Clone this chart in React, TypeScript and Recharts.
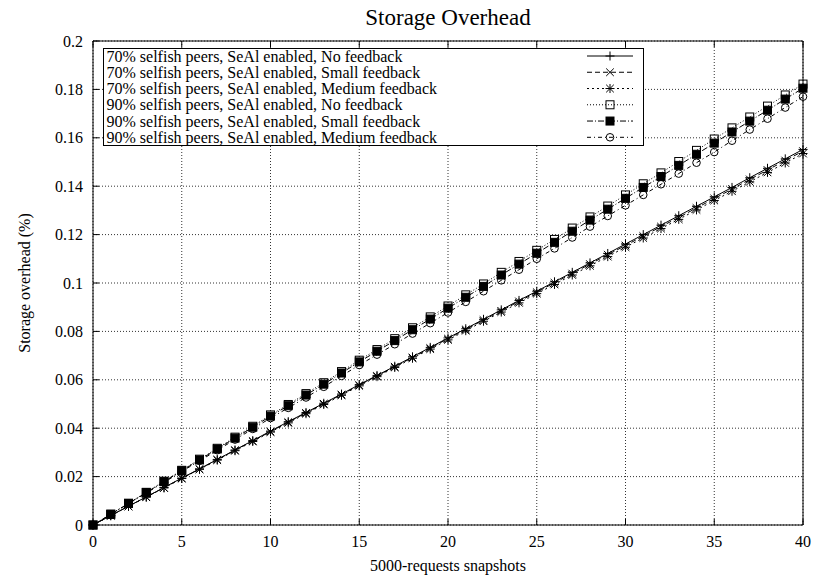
import React from 'react';
import { LineChart, Line, XAxis, YAxis, CartesianGrid, Legend, Label } from 'recharts';

// snapshot index (x axis)
const snapshots = [
  0, 1, 2, 3, 4, 5, 6, 7, 8, 9, 10, 11, 12, 13, 14, 15, 16, 17, 18, 19, 20,
  21, 22, 23, 24, 25, 26, 27, 28, 29, 30, 31, 32, 33, 34, 35, 36, 37, 38, 39, 40,
];

const xTicks = [0, 5, 10, 15, 20, 25, 30, 35, 40];
const yTicks = [0, 0.02, 0.04, 0.06, 0.08, 0.1, 0.12, 0.14, 0.16, 0.18, 0.2];

// values
const p70None = [
  0, 0.0039, 0.0078, 0.0116, 0.0155, 0.0194, 0.0232, 0.0271, 0.031, 0.0349, 0.0388,
  0.0427, 0.0465, 0.0503, 0.0541, 0.058, 0.0618, 0.0656, 0.0695, 0.0734, 0.0773,
  0.0811, 0.085, 0.0889, 0.0928, 0.0966, 0.1005, 0.1044, 0.1083, 0.1122, 0.1161,
  0.12, 0.1239, 0.1278, 0.1317, 0.1356, 0.1395, 0.1435, 0.1474, 0.1513, 0.1552,
];
const p70Small = [
  0, 0.0039, 0.0077, 0.0116, 0.0154, 0.0193, 0.0231, 0.027, 0.0309, 0.0347, 0.0386,
  0.0425, 0.0463, 0.0501, 0.0539, 0.0578, 0.0616, 0.0654, 0.0692, 0.0731, 0.077,
  0.0808, 0.0847, 0.0885, 0.0924, 0.0962, 0.1001, 0.1039, 0.1078, 0.1117, 0.1155,
  0.1194, 0.1233, 0.1271, 0.131, 0.1349, 0.1388, 0.1428, 0.1467, 0.1506, 0.1545,
];
const p70Medium = [
  0, 0.0038, 0.0077, 0.0115, 0.0153, 0.0192, 0.023, 0.0268, 0.0307, 0.0345, 0.0384,
  0.0422, 0.046, 0.0498, 0.0536, 0.0575, 0.0613, 0.0651, 0.0689, 0.0727, 0.0765,
  0.0803, 0.0842, 0.088, 0.0918, 0.0956, 0.0994, 0.1033, 0.1071, 0.1109, 0.1148,
  0.1186, 0.1225, 0.1263, 0.1302, 0.1341, 0.1379, 0.1418, 0.1457, 0.1496, 0.1535,
];
const p90None = [
  0, 0.0045, 0.009, 0.0135, 0.0181, 0.0226, 0.0272, 0.0317, 0.0363, 0.0408, 0.0455,
  0.0498, 0.0543, 0.0588, 0.0634, 0.0681, 0.0725, 0.077, 0.0815, 0.086, 0.0905,
  0.0951, 0.0996, 0.1044, 0.1089, 0.1135, 0.118, 0.1227, 0.1273, 0.1318, 0.1364,
  0.141, 0.1455, 0.1502, 0.1548, 0.1595, 0.1641, 0.1686, 0.1731, 0.1777, 0.1822,
];
const p90Small = [
  0, 0.0044, 0.0089, 0.0134, 0.0179, 0.0224, 0.0269, 0.0314, 0.0359, 0.0404, 0.045,
  0.0493, 0.0537, 0.0582, 0.0628, 0.0674, 0.0718, 0.0762, 0.0807, 0.0851, 0.0896,
  0.0941, 0.0986, 0.1033, 0.1078, 0.1123, 0.1168, 0.1214, 0.126, 0.1305, 0.135,
  0.1395, 0.144, 0.1486, 0.1532, 0.1578, 0.1624, 0.1669, 0.1714, 0.176, 0.1805,
];
const p90Medium = [
  0, 0.0044, 0.0088, 0.0132, 0.0176, 0.0221, 0.0265, 0.0309, 0.0353, 0.0397, 0.0442,
  0.0484, 0.0527, 0.0571, 0.0616, 0.0661, 0.0704, 0.0747, 0.0791, 0.0834, 0.0878,
  0.0922, 0.0966, 0.1011, 0.1055, 0.11, 0.1143, 0.1188, 0.1233, 0.1277, 0.1321,
  0.1364, 0.1408, 0.1452, 0.1497, 0.1541, 0.1588, 0.1634, 0.1679, 0.1725, 0.177,
];

const FONT = '"Liberation Serif", "Times New Roman", serif';

type Kind = 'plus' | 'cross' | 'star' | 'square' | 'filled' | 'circle';

const series: { key: string; name: string; dash?: string; kind: Kind }[] = [
  { key: 'a', name: '70% selfish peers, SeAl enabled, No feedback', kind: 'plus' },
  { key: 'b', name: '70% selfish peers, SeAl enabled, Small feedback', dash: '5 3', kind: 'cross' },
  { key: 'c', name: '70% selfish peers, SeAl enabled, Medium feedback', dash: '2 3', kind: 'star' },
  { key: 'd', name: '90% selfish peers, SeAl enabled, No feedback', dash: '1 2', kind: 'square' },
  { key: 'e', name: '90% selfish peers, SeAl enabled, Small feedback', dash: '6 2 1 2', kind: 'filled' },
  { key: 'f', name: '90% selfish peers, SeAl enabled, Medium feedback', dash: '4 3 1 3', kind: 'circle' },
];

const data = snapshots.map((x, i) => ({
  x,
  a: p70None[i],
  b: p70Small[i],
  c: p70Medium[i],
  d: p90None[i],
  e: p90Small[i],
  f: p90Medium[i],
}));

function Marker({ cx, cy, kind }: { cx: number; cy: number; kind: Kind }) {
  const s = 4.5;
  const d = 3.8;
  const plus = (
    <>
      <line x1={cx - s} x2={cx + s} y1={cy} y2={cy} stroke="#000" />
      <line x1={cx} x2={cx} y1={cy - s} y2={cy + s} stroke="#000" />
    </>
  );
  const cross = (
    <>
      <line x1={cx - d} x2={cx + d} y1={cy - d} y2={cy + d} stroke="#000" />
      <line x1={cx - d} x2={cx + d} y1={cy + d} y2={cy - d} stroke="#000" />
    </>
  );
  switch (kind) {
    case 'plus':
      return <g>{plus}</g>;
    case 'cross':
      return <g>{cross}</g>;
    case 'star':
      return <g>{plus}{cross}</g>;
    case 'square':
      return <rect x={cx - 4} y={cy - 4} width={8} height={8} fill="none" stroke="#000" />;
    case 'filled':
      return <rect x={cx - 4} y={cy - 4} width={8} height={8} fill="#000" stroke="#000" />;
    default:
      return <circle cx={cx} cy={cy} r={3.8} fill="none" stroke="#000" />;
  }
}

const LegendBox = () => (
  <svg width={541} height={98} style={{ display: 'block' }}>
    <rect x={0.5} y={0.5} width={540} height={97} fill="#fff" stroke="#000" />
    {series.map((s, i) => {
      const cy = 8 + i * 16.26;
      return (
        <g key={s.key}>
          <text x={3.5} y={cy + 5.6} fontSize={16} fontFamily={FONT} fill="#000">
            {s.name}
          </text>
          <line x1={484} x2={530} y1={cy} y2={cy} stroke="#000" strokeDasharray={s.dash} />
          <Marker cx={507} cy={cy} kind={s.kind} />
        </g>
      );
    })}
  </svg>
);

const TitleLabel = ({ viewBox }: any) => (
  <text
    x={viewBox.x + viewBox.width / 2}
    y={viewBox.y - 15}
    textAnchor="middle"
    fontSize={23}
    fontFamily={FONT}
    fill="#000"
  >
    Storage Overhead
  </text>
);

const YTitle = ({ viewBox }: any) => {
  const cx = viewBox.x + 24;
  const cy = viewBox.y + viewBox.height / 2;
  return (
    <text
      x={cx}
      y={cy}
      transform={`rotate(-90 ${cx} ${cy})`}
      textAnchor="middle"
      dy="0.35em"
      fontSize={16}
      fontFamily={FONT}
      fill="#000"
    >
      Storage overhead (%)
    </text>
  );
};

const XTitle = ({ viewBox }: any) => (
  <text
    x={viewBox.x + viewBox.width / 2}
    y={viewBox.y + 46}
    textAnchor="middle"
    fontSize={16}
    fontFamily={FONT}
    fill="#000"
  >
    5000-requests snapshots
  </text>
);

const tickStyle = { fill: '#000', fontSize: 16, fontFamily: FONT };
const noLabel = () => <g />;

export default function App() {
  return (
    <div style={{ position: 'absolute', left: 0, top: 0, background: '#fff' }}>
      <LineChart
        width={814}
        height={579}
        data={data}
        margin={{ top: 40, right: 10, left: 0, bottom: 0 }}
        style={{ fontFamily: FONT }}
      >
        <CartesianGrid stroke="#333" strokeDasharray="1 2" />
        <XAxis
          dataKey="x"
          type="number"
          domain={[0, 40]}
          ticks={xTicks}
          interval={0}
          height={54}
          tickSize={-6}
          tickMargin={17}
          tick={tickStyle}
          stroke="#000"
        >
          <Label content={<XTitle />} />
        </XAxis>
        <XAxis
          xAxisId="top"
          orientation="top"
          dataKey="x"
          type="number"
          domain={[0, 40]}
          ticks={xTicks}
          interval={0}
          height={1}
          tickSize={-6}
          tick={noLabel}
          stroke="#000"
        >
          <Label content={<TitleLabel />} />
        </XAxis>
        <YAxis
          type="number"
          domain={[0, 0.2]}
          ticks={yTicks}
          interval={0}
          width={93}
          tickSize={-6}
          tickMargin={16}
          tick={tickStyle}
          stroke="#000"
        >
          <Label content={<YTitle />} />
        </YAxis>
        <YAxis
          yAxisId="right"
          orientation="right"
          type="number"
          domain={[0, 0.2]}
          ticks={yTicks}
          interval={0}
          width={1}
          tickSize={-6}
          tick={noLabel}
          stroke="#000"
        />
        <Legend
          layout="vertical"
          align="center"
          verticalAlign="middle"
          content={() => <LegendBox />}
          wrapperStyle={{ left: 103, top: 48, width: 541, height: 98 }}
        />
        {series.map((s) => (
          <Line
            key={s.key}
            dataKey={s.key}
            name={s.name}
            type="linear"
            stroke="#000"
            strokeWidth={1}
            strokeDasharray={s.dash}
            dot={(p: any) => <Marker key={p.index} cx={p.cx} cy={p.cy} kind={s.kind} />}
            activeDot={false}
            isAnimationActive={false}
          />
        ))}
      </LineChart>
    </div>
  );
}
